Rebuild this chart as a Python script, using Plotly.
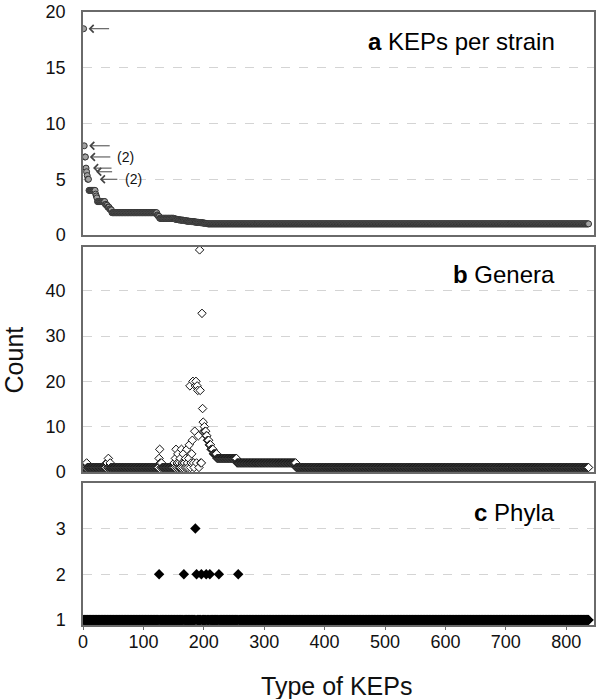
import plotly.graph_objects as go

# ---------------- data ----------------
N_TYPES = 837

# a: KEPs per strain, run-length (value, number of KEP types), sorted descending
per_strain_runs = [
    (18.5, 1), (8, 1), (7, 2), (6, 1), (5.67, 1), (5.33, 1), (5, 2),
    (4, 11), (3.67, 1), (3.5, 1), (3.33, 1), (3, 13),
    (2.75, 2), (2.67, 2), (2.5, 3), (2.33, 2), (2.25, 2), (2, 75),
    (1.8, 1), (1.75, 1), (1.67, 2), (1.5, 24),
    (1.45, 3), (1.4, 4), (1.36, 4), (1.33, 5), (1.29, 4), (1.25, 5), (1.22, 4),
    (1.2, 4), (1.17, 4), (1.14, 4), (1.12, 3), (1.1, 3), (1.08, 3), (1.06, 2),
    (1.04, 2), (1.02, 2), (1, 631),
]

# b: genera per KEP type
genera_head = [1, 1, 1, 1, 1, 2] + [1] * 32 + [2, 2, 1, 3, 1, 1, 2] + [1] * 79   # x 1..124
genera_cluster = [  # x 125..200
    1, 3, 5, 2, 1, 2, 1, 1, 1, 1, 1, 1, 1, 1, 1, 1, 1, 1, 1, 1, 1, 1, 1, 1, 1, 1,
    2, 1, 3, 5, 1, 2, 4, 1, 2, 1, 3, 1, 5, 2, 1, 4, 2, 2, 1, 3, 1, 5, 2, 1,
    3, 6, 19, 1, 2, 4, 7, 20, 2, 1, 9, 19, 20, 2, 19, 18, 8, 1, 49, 18, 2, 2,
    35, 14, 11, 9,
]
genera_ramp = [10, 9, 9, 8, 8, 7, 7, 7, 6, 6, 6, 5, 5, 5, 5, 4, 4, 4, 4, 4, 4]  # x 201..221
genera_tail_runs = [(3, 33), (2, 98), (1, 485)]

# c: phyla per KEP type (all 1 except these)
phyla_special = {126: 2, 167: 2, 186: 3, 188: 2, 196: 2, 204: 2, 210: 2, 225: 2, 257: 2}

x_ticks = [0, 100, 200, 300, 400, 500, 600, 700, 800]

# ---------------- build series ----------------
def expand(runs):
    out = []
    for v, n in runs:
        out += [v] * n
    return out

kep_x = list(range(1, N_TYPES + 1))
per_strain = expand(per_strain_runs)
genera = genera_head + genera_cluster + genera_ramp + expand(genera_tail_runs)
phyla = [phyla_special.get(i, 1) for i in kep_x]

fig = go.Figure()
fig.add_trace(go.Scatter(x=kep_x, y=per_strain, mode="markers", xaxis="x", yaxis="y",
                         marker=dict(symbol="circle", size=6, color="#a3a3a3",
                                     line=dict(color="#333333", width=1))))
fig.add_trace(go.Scatter(x=kep_x, y=genera, mode="markers", xaxis="x2", yaxis="y2",
                         marker=dict(symbol="diamond", size=6.5, color="white",
                                     line=dict(color="#111111", width=1))))
fig.add_trace(go.Scatter(x=kep_x, y=phyla, mode="markers", xaxis="x3", yaxis="y3",
                         marker=dict(symbol="diamond", size=8, color="#000000",
                                     line=dict(width=0))))

FONT = "Liberation Sans, Arial, sans-serif"
axcol = "#6a6a6a"
gridcol = "#d4d4d4"

def xax(show_labels, anchor):
    return dict(range=[0, 846], anchor=anchor, showline=True, linecolor=axcol, linewidth=1.5,
                mirror=True, showgrid=False, zeroline=False,
                tickvals=x_ticks, showticklabels=show_labels,
                ticks="outside" if show_labels else "", ticklen=3, tickcolor=axcol,
                ticklabelstandoff=-3,
                tickfont=dict(size=18, color="#111", family=FONT))

def yax(rng, dom, tickvals, anchor):
    return dict(range=rng, domain=dom, anchor=anchor, showline=True, linecolor=axcol,
                linewidth=1.5, mirror=True, showgrid=True, gridcolor=gridcol, griddash="dash",
                gridwidth=1, zeroline=False, tickvals=tickvals, ticks="",
                ticklabelstandoff=12, ticklabeloverflow="allow",
                tickfont=dict(size=18, color="#111", family=FONT))

fig.update_layout(
    width=598, height=699, showlegend=False,
    margin=dict(l=83, r=2, t=12, b=74),
    paper_bgcolor="white", plot_bgcolor="white",
    font=dict(family=FONT, color="#111"),
    xaxis=xax(False, "y"), xaxis2=xax(False, "y2"), xaxis3=xax(True, "y3"),
    yaxis=yax([0, 20], [0.6362, 1.0], [0, 5, 10, 15, 20], "x"),
    yaxis2=yax([0, 49.7], [0.2496, 0.6171], [0, 10, 20, 30, 40], "x2"),
    yaxis3=yax([0.89, 4.0], [0.0, 0.2321], [1, 2, 3], "x3"),
)

ann = []
# panel titles
for text, yref, yv in [("<b>a</b> KEPs per strain", "y domain", 0.867),
                       ("<b>b</b> Genera", "y2 domain", 0.877),
                       ("<b>c</b> Phyla", "y3 domain", 0.793)]:
    ann.append(dict(text=text, xref="paper", yref=yref, x=0.928, y=yv, xanchor="right",
                    yanchor="middle", showarrow=False, font=dict(size=24, color="#000", family=FONT)))

# arrows in panel a
arrow_targets = [(0, 27, 5), (1, 27, 5), (2, 27, 5), (4, 27, 7), (5, 27, 9.5), (7, 31, 12)]
for idx, axoff, so in arrow_targets:
    ann.append(dict(text="", x=kep_x[idx], y=per_strain[idx], xref="x", yref="y",
                    showarrow=True, ax=axoff, ay=0, arrowhead=4, arrowsize=1.5, arrowwidth=1,
                    arrowcolor="#444", standoff=so))
for idx, xs in [(2, 30), (7, 35)]:
    ann.append(dict(text="(2)", x=kep_x[idx], y=per_strain[idx], xref="x", yref="y",
                    xanchor="left", yanchor="middle", xshift=xs, showarrow=False,
                    font=dict(size=14, color="#111", family=FONT)))

ann.append(dict(text="Count", xref="paper", yref="paper", x=-0.1345, y=0.432, textangle=-90,
                showarrow=False, xanchor="center", yanchor="middle",
                font=dict(size=25, color="#111", family=FONT)))
ann.append(dict(text="Type of KEPs", xref="paper", yref="paper", x=0.497, y=-0.0995,
                showarrow=False, xanchor="center", yanchor="middle",
                font=dict(size=25, color="#111", family=FONT)))
fig.update_layout(annotations=ann)

fig.write_html("out.html", config={"displayModeBar": False},
               post_script="document.body.style.margin='0px';")
